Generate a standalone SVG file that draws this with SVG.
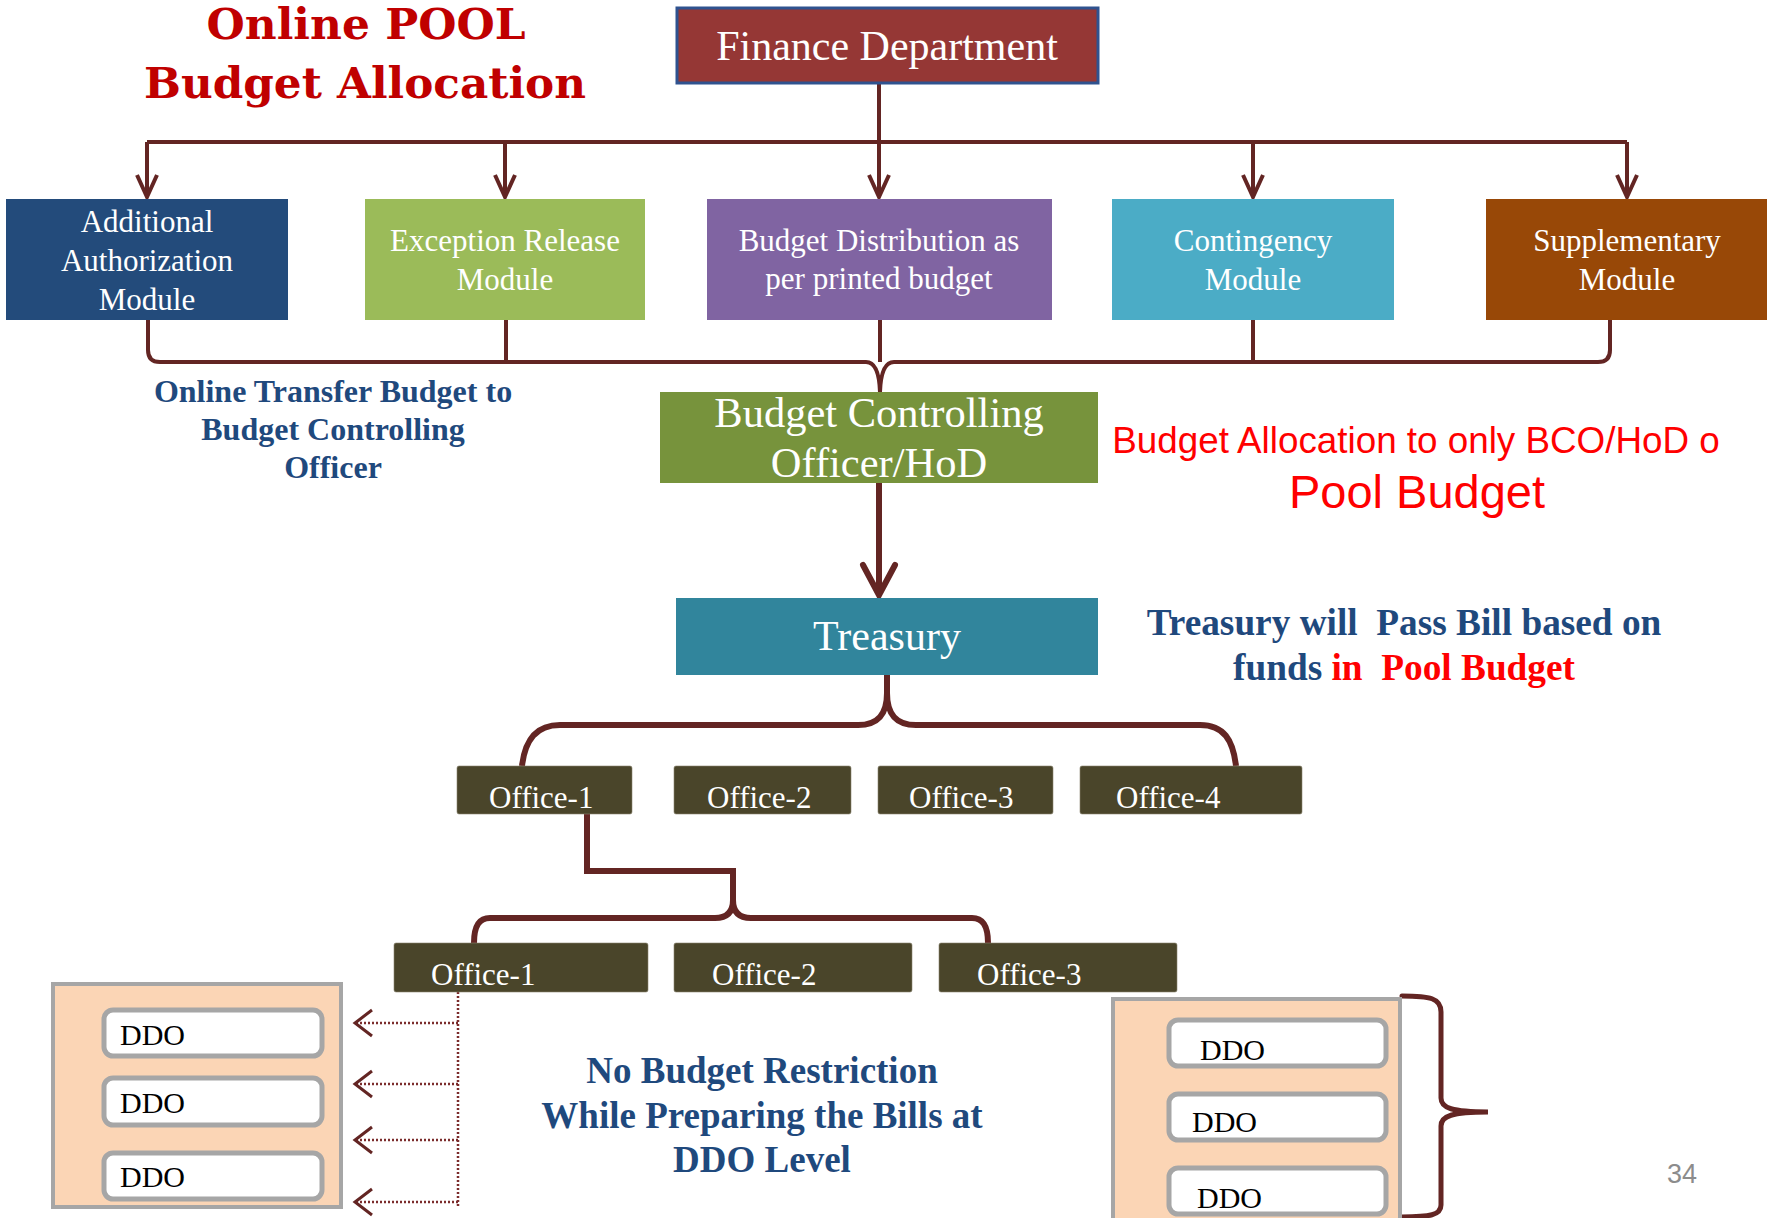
<svg xmlns="http://www.w3.org/2000/svg" width="1767" height="1218" viewBox="0 0 1767 1218">
<style>
.serif{font-family:"Liberation Serif","Times New Roman",serif}
.wt{fill:#FFFFFF;font-family:"Liberation Serif","Times New Roman",serif;text-anchor:middle}
.mod{font-size:31px}
.off{fill:#FFFFFF;font-family:"Liberation Serif","Times New Roman",serif;font-size:31px}
.blue{fill:#1F497D;font-family:"Liberation Serif","Times New Roman",serif;font-weight:bold;text-anchor:middle}
.red{fill:#FF0000}
.ddo{font-family:"Liberation Serif","Times New Roman",serif;font-size:30px;fill:#000000}
.obox{fill:#4A452A;stroke:#8A8570;stroke-width:0.6}
.ddobox{fill:#FFFFFF;stroke:#A6A6A6;stroke-width:5}
.group{fill:#FBD5B5;stroke:#A6A6A6;stroke-width:4}
.conn{fill:none;stroke:#632523;stroke-width:4}
.thick{fill:none;stroke:#632523;stroke-width:6}
.dot{fill:none;stroke:#7B2C2C;stroke-width:2.5;stroke-dasharray:2 2}
.dothead{fill:none;stroke:#632523;stroke-width:3}
</style>
<defs>
<marker id="arrS" markerUnits="userSpaceOnUse" markerWidth="40" markerHeight="40" refX="0" refY="0" viewBox="-30 -20 40 40" orient="auto" overflow="visible">
<path d="M-22,-10 L0,0 L-22,10" fill="none" stroke="#632523" stroke-width="4"/>
</marker>
<marker id="arrL" markerUnits="userSpaceOnUse" markerWidth="50" markerHeight="50" refX="0" refY="0" viewBox="-40 -25 50 50" orient="auto" overflow="visible">
<path d="M-30,-16 L0,0 L-30,16" fill="none" stroke="#632523" stroke-width="6" stroke-linecap="round"/>
</marker>
</defs>
<rect width="1767" height="1218" fill="#FFFFFF"/>

<g id="title">
<text x="366" y="39" text-anchor="middle" font-family="'DejaVu Serif',serif" font-weight="bold" font-size="42" fill="#C00000" textLength="319" lengthAdjust="spacingAndGlyphs">Online POOL</text>
<text x="365" y="98" text-anchor="middle" font-family="'DejaVu Serif',serif" font-weight="bold" font-size="43" fill="#C00000" textLength="442" lengthAdjust="spacingAndGlyphs">Budget Allocation</text>
</g>

<g id="connectors">
<path class="conn" d="M879,83 L879,142"/>
<path class="conn" d="M147,142 L1627,142"/>
<path class="conn" d="M147,142 L147,197" marker-end="url(#arrS)"/>
<path class="conn" d="M505,142 L505,197" marker-end="url(#arrS)"/>
<path class="conn" d="M879,142 L879,197" marker-end="url(#arrS)"/>
<path class="conn" d="M1253,142 L1253,197" marker-end="url(#arrS)"/>
<path class="conn" d="M1627,142 L1627,197" marker-end="url(#arrS)"/>
<path class="conn" d="M148,320 L148,350 Q148,362 160,362 L866,362 Q879,362 880,392"/>
<path class="conn" d="M1610,320 L1610,350 Q1610,362 1598,362 L894,362 Q881,362 880,392"/>
<path class="conn" d="M506,320 L506,362"/>
<path class="conn" d="M880,320 L880,362"/>
<path class="conn" d="M1253,320 L1253,362"/>
<path class="thick" d="M879,483 L879,595" marker-end="url(#arrL)"/>
<path class="thick" d="M887,675 L887,693 C887,714 896,725 916,725 L1200,725 C1224,725 1233,740 1236,766"/>
<path class="thick" d="M887,693 C887,714 878,725 858,725 L560,725 C536,725 525,740 522,766"/>
<path class="thick" d="M587,814 L587,871 L733,871 L733,900 C733,912 727,918 715,918 L490,918 C479,918 474,926 474,943"/>
<path class="thick" d="M733,900 C733,912 739,918 751,918 L972,918 C983,918 988,926 988,943"/>
<path class="dot" d="M458,992 L458,1206"/>
<path class="dot" d="M458,1023 L356,1023"/>
<path class="dot" d="M458,1084 L356,1084"/>
<path class="dot" d="M458,1140 L356,1140"/>
<path class="dot" d="M458,1202 L356,1202"/>
<path class="dothead" d="M372,1010 L355,1023 L372,1036"/>
<path class="dothead" d="M372,1071 L355,1084 L372,1097"/>
<path class="dothead" d="M372,1127 L355,1140 L372,1153"/>
<path class="dothead" d="M372,1189 L355,1202 L372,1215"/>
<path d="M1402,996 C1430,996 1441,998 1441,1012 L1441,1098 C1441,1108 1452,1112 1488,1112 C1452,1112 1441,1116 1441,1126 L1441,1205 C1441,1215 1430,1217 1402,1217" fill="none" stroke="#632523" stroke-width="5" stroke-linecap="round"/>
</g>

<g id="finance">
<rect x="677" y="8" width="421" height="75" fill="#953735" stroke="#2F528F" stroke-width="3"/>
<text class="wt" x="887" y="60" font-size="42">Finance Department</text>
</g>

<g id="mod-additional">
<rect x="6" y="199" width="282" height="121" fill="#234B7B"/>
<text class="wt mod" x="147" y="232">Additional</text>
<text class="wt mod" x="147" y="271">Authorization</text>
<text class="wt mod" x="147" y="310">Module</text>
</g>
<g id="mod-exception">
<rect x="365" y="199" width="280" height="121" fill="#9BBB59"/>
<text class="wt mod" x="505" y="251">Exception Release</text>
<text class="wt mod" x="505" y="290">Module</text>
</g>
<g id="mod-distribution">
<rect x="707" y="199" width="345" height="121" fill="#8064A2"/>
<text class="wt mod" x="879" y="251">Budget Distribution as</text>
<text class="wt mod" x="879" y="289">per printed budget</text>
</g>
<g id="mod-contingency">
<rect x="1112" y="199" width="282" height="121" fill="#4BACC6"/>
<text class="wt mod" x="1253" y="251">Contingency</text>
<text class="wt mod" x="1253" y="290">Module</text>
</g>
<g id="mod-supplementary">
<rect x="1486" y="199" width="281" height="121" fill="#984807"/>
<text class="wt mod" x="1627" y="251">Supplementary</text>
<text class="wt mod" x="1627" y="290">Module</text>
</g>

<g id="label-transfer">
<text class="blue" x="333" y="402" font-size="32">Online Transfer Budget to</text>
<text class="blue" x="333" y="440" font-size="32">Budget Controlling</text>
<text class="blue" x="333" y="478" font-size="32">Officer</text>
</g>

<g id="bco">
<rect x="660" y="392" width="438" height="91" fill="#77933C"/>
<text class="wt" x="879" y="427" font-size="42.5">Budget Controlling</text>
<text class="wt" x="879" y="477" font-size="42.5">Officer/HoD</text>
</g>

<g id="label-allocation">
<text x="1416" y="453" text-anchor="middle" font-family="'Liberation Sans',Arial,sans-serif" font-size="36.8" fill="#FF0000">Budget Allocation to only BCO/HoD o</text>
<text x="1417" y="508" text-anchor="middle" font-family="'Liberation Sans',Arial,sans-serif" font-size="47" fill="#FF0000">Pool Budget</text>
</g>

<g id="treasury">
<rect x="676" y="598" width="422" height="77" fill="#31859C"/>
<text class="wt" x="887" y="650" font-size="42">Treasury</text>
</g>

<g id="label-treasury">
<text class="blue" x="1404" y="635" font-size="37.3" xml:space="preserve">Treasury will  Pass Bill based on</text>
<text class="blue" x="1404" y="680" font-size="37.3" xml:space="preserve">funds <tspan class="red">in  Pool Budget</tspan></text>
</g>

<g id="office1">
<rect class="obox" x="457" y="766" width="175" height="48" rx="2"/>
<text class="off" x="489" y="808">Office-1</text>
</g>
<g id="office2">
<rect class="obox" x="674" y="766" width="177" height="48" rx="2"/>
<text class="off" x="707" y="808">Office-2</text>
</g>
<g id="office3">
<rect class="obox" x="878" y="766" width="175" height="48" rx="2"/>
<text class="off" x="909" y="808">Office-3</text>
</g>
<g id="office4">
<rect class="obox" x="1080" y="766" width="222" height="48" rx="2"/>
<text class="off" x="1116" y="808">Office-4</text>
</g>

<g id="sub-office1">
<rect class="obox" x="394" y="943" width="254" height="49" rx="2"/>
<text class="off" x="431" y="985">Office-1</text>
</g>
<g id="sub-office2">
<rect class="obox" x="674" y="943" width="238" height="49" rx="2"/>
<text class="off" x="712" y="985">Office-2</text>
</g>
<g id="sub-office3">
<rect class="obox" x="939" y="943" width="238" height="49" rx="2"/>
<text class="off" x="977" y="985">Office-3</text>
</g>

<g id="ddo-left">
<rect class="group" x="53" y="984" width="288" height="223"/>
<rect class="ddobox" x="104" y="1010" width="218" height="46" rx="9"/>
<text class="ddo" x="120" y="1045">DDO</text>
<rect class="ddobox" x="104" y="1078" width="218" height="47" rx="9"/>
<text class="ddo" x="120" y="1113">DDO</text>
<rect class="ddobox" x="104" y="1153" width="218" height="46" rx="9"/>
<text class="ddo" x="120" y="1187">DDO</text>
</g>

<g id="label-restriction">
<text class="blue" x="762" y="1083" font-size="37">No Budget Restriction</text>
<text class="blue" x="762" y="1128" font-size="37">While Preparing the Bills at</text>
<text class="blue" x="762" y="1172" font-size="37">DDO Level</text>
</g>

<g id="ddo-right">
<rect class="group" x="1113" y="999" width="287" height="240"/>
<rect class="ddobox" x="1169" y="1020" width="217" height="46" rx="9"/>
<text class="ddo" x="1200" y="1060">DDO</text>
<rect class="ddobox" x="1169" y="1094" width="217" height="46" rx="9"/>
<text class="ddo" x="1192" y="1132">DDO</text>
<rect class="ddobox" x="1169" y="1168" width="217" height="46" rx="9"/>
<text class="ddo" x="1197" y="1208">DDO</text>
</g>

<g id="page-number">
<text x="1667" y="1183" font-family="'Liberation Sans',Arial,sans-serif" font-size="27" fill="#8C8C8C">34</text>
</g>
</svg>
